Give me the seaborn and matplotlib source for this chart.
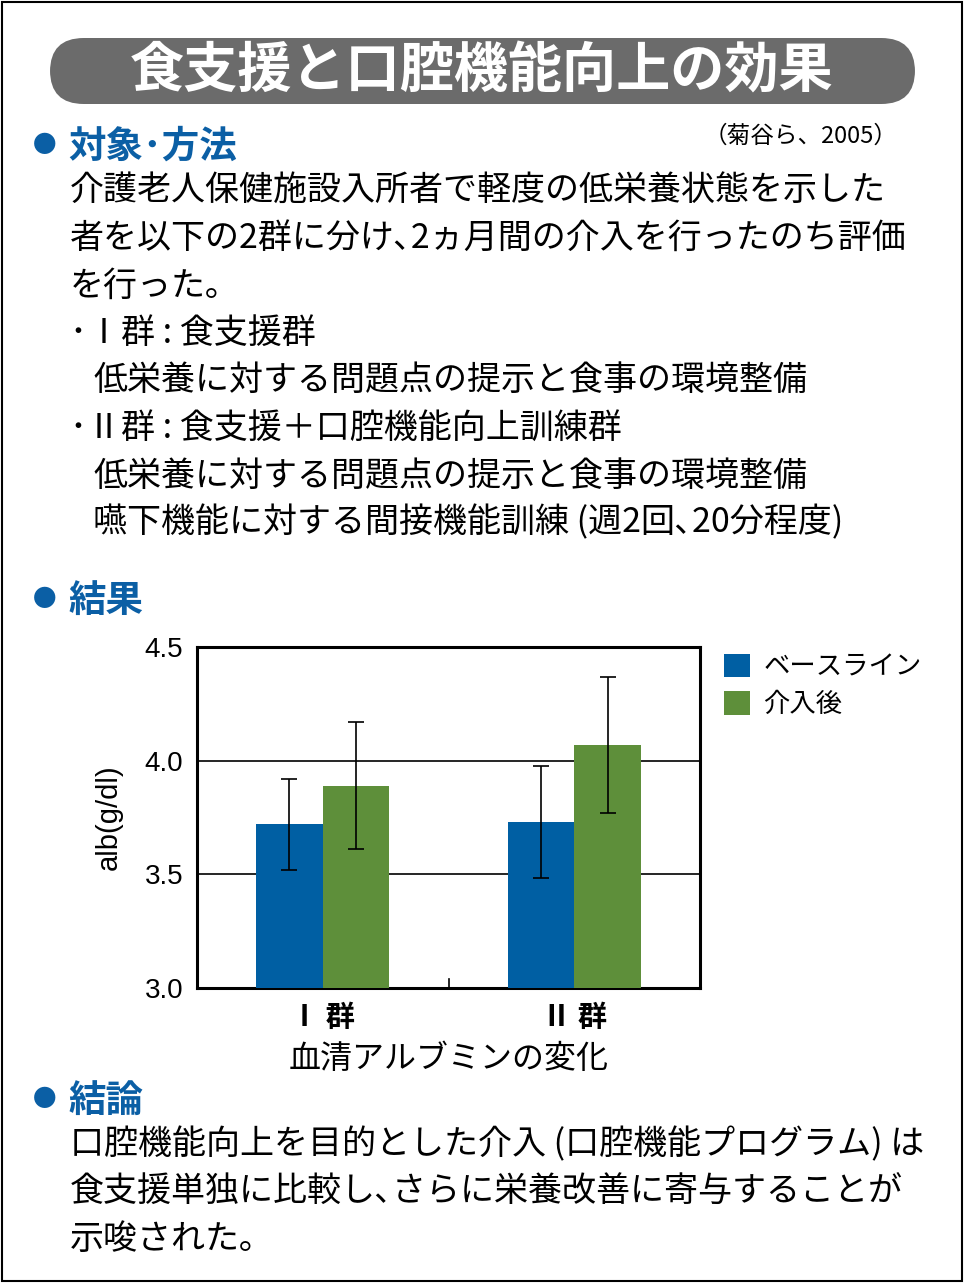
import matplotlib
matplotlib.use("Agg")
import matplotlib.pyplot as plt
from matplotlib.patches import FancyBboxPatch, Rectangle
import numpy as np
import pandas as pd
import seaborn as sns

# --- data ---
groups = ["Ⅰ 群", "Ⅱ 群"]
series = ["ベースライン", "介入後"]
baseline = [3.72, 3.73]
after = [3.89, 4.07]
baseline_err = [0.20, 0.245]
after_err = [0.28, 0.30]
yticks = [3.0, 3.5, 4.0, 4.5]

FONT = "Noto Sans CJK JP"
plt.rcParams["font.family"] = FONT
BLUE = "#005fa3"
GREEN = "#5e8f3a"
HEAD = "#0b5fa5"

W, H = 964, 1283
fig = plt.figure(figsize=(W / 100, H / 100), dpi=100)

def fx(x): return x / W
def fy(y): return 1 - y / H

# outer frame
fig.patches.append(Rectangle((fx(2), fy(1281)), fx(960), 1279 / H, transform=fig.transFigure,
                             fill=False, lw=1.5, ec="black"))
# title box
fig.patches.append(FancyBboxPatch((fx(50), fy(104)), fx(865), 66 / H, transform=fig.transFigure,
                                  boxstyle="round,pad=0,rounding_size=0.035", mutation_aspect=W / H,
                                  fc="#6b6b6b", ec="none"))
fig.text(fx(482), fy(72), "食支援と口腔機能向上の効果", color="white", fontsize=39,
         fontweight="bold", ha="center", va="center")

def bullet(y, label):
    fig.text(fx(33), fy(y), "●", color=HEAD, fontsize=17, va="center")
    fig.text(fx(68), fy(y), label, color=HEAD, fontsize=27, fontweight="bold", va="center")

bullet(146, "対象･方法")
fig.text(fx(898), fy(136), "（菊谷ら、2005）", fontsize=17, ha="right", va="center")
FS = 24.5
body = [
    (70, 190, "介護老人保健施設入所者で軽度の低栄養状態を示した"),
    (70, 238, "者を以下の2群に分け､2ヵ月間の介入を行ったのち評価"),
    (70, 286, "を行った｡"),
    (70, 333, "･Ⅰ群 : 食支援群"),
    (93, 380, "低栄養に対する問題点の提示と食事の環境整備"),
    (70, 428, "･Ⅱ群 : 食支援＋口腔機能向上訓練群"),
    (93, 476, "低栄養に対する問題点の提示と食事の環境整備"),
    (93, 523, "嚥下機能に対する間接機能訓練 (週2回､20分程度)"),
]
for x, y, t in body:
    fig.text(fx(x), fy(y), t, fontsize=FS, va="center")

bullet(600, "結果")
bullet(1100, "結論")
for y, t in [(1145, "口腔機能向上を目的とした介入 (口腔機能プログラム) は"),
             (1192, "食支援単独に比較し､さらに栄養改善に寄与することが"),
             (1240, "示唆された｡")]:
    fig.text(fx(70), fy(y), t, fontsize=FS, va="center")

# --- chart ---
df = pd.DataFrame({
    "group": groups * 2,
    "series": [series[0]] * 2 + [series[1]] * 2,
    "alb": baseline + after,
})
ax = fig.add_axes([fx(197), fy(988), 503 / W, 341 / H])
sns.barplot(data=df, x="group", y="alb", hue="series", palette=[BLUE, GREEN],
            width=0.53, saturation=1, errorbar=None, ax=ax, zorder=3)
errs = baseline_err + after_err
vals = baseline + after
for p, v, e in zip(ax.patches[:4], vals, errs):
    cx = p.get_x() + p.get_width() / 2
    ax.errorbar(cx, v, yerr=e, color="black", capsize=6, lw=1.2, capthick=1.2, zorder=4)
ax.set_ylim(3.0, 4.5)
ax.set_xlim(-0.5, 1.5)
ax.set_yticks(yticks)
ax.set_yticklabels([f"{t:.1f}" for t in yticks], fontsize=20, family="Liberation Sans")
ax.grid(axis="y", color="black", lw=1.2, zorder=0)
ax.tick_params(axis="y", length=0, pad=10)
ax.tick_params(axis="x", length=0, pad=10, labelsize=21)
ax.set_xticks([0, 0.5, 1], [groups[0], "", groups[1]])
for lbl in ax.get_xticklabels():
    lbl.set_fontweight("bold")
ax.plot([0.5, 0.5], [3.0, 3.04], color="black", lw=1.2)
for s in ax.spines.values():
    s.set_linewidth(2.2)
ax.set_xlabel("血清アルブミンの変化", fontsize=23, labelpad=8)
ax.set_ylabel("alb(g/dl)", fontsize=21, family="Liberation Sans", labelpad=16)
ax.legend(loc="upper left", bbox_to_anchor=(1.0, 1.05), frameon=False, fontsize=19,
          handlelength=1.0, handleheight=1.0, handletextpad=0.5, labelspacing=0.4)

fig.savefig("out.png", dpi=100)
